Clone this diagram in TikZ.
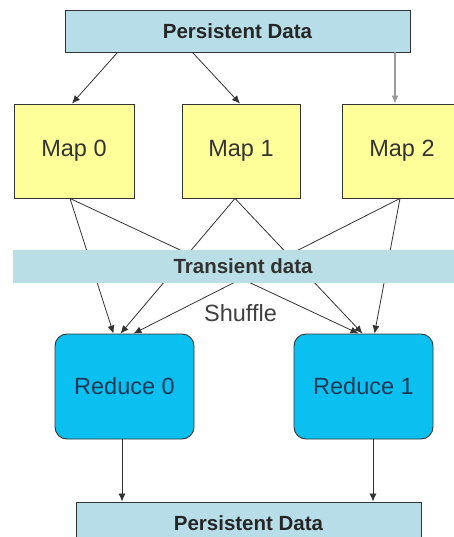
\documentclass[tikz,border=0pt]{standalone}
\usepackage{fontspec}
\setmainfont{Liberation Sans}
\usetikzlibrary{arrows.meta}
\definecolor{persist}{RGB}{183,221,232}
\definecolor{transient}{RGB}{186,222,230}
\definecolor{mapyellow}{RGB}{255,255,153}
\definecolor{reducecyan}{RGB}{10,192,240}
\definecolor{edgegray}{RGB}{51,51,51}
\definecolor{reducetext}{RGB}{28,55,85}

\begin{document}
\begin{tikzpicture}[x=1pt,y=-1pt,
  databox/.style={draw=edgegray,fill=persist,line width=0.9pt,minimum width=345pt,minimum height=42pt,inner sep=0pt,
    text=black!85,font=\fontsize{20.5}{24}\selectfont\bfseries},
  mapbox/.style={draw=edgegray,fill=mapyellow,line width=0.9pt,minimum height=94pt,inner sep=0pt,
    text=black!80,font=\fontsize{23.5}{28}\selectfont},
  reducebox/.style={draw=edgegray,fill=reducecyan,line width=0.9pt,rounded corners=12pt,minimum width=139pt,minimum height=105pt,
    inner sep=0pt,text=reducetext,font=\fontsize{23.5}{28}\selectfont},
  flow/.style={draw=edgegray,line width=0.8pt,-{Latex[length=8pt,width=7pt]}}]
\useasboundingbox (0,0) rectangle (454,537);
\node[databox] (pin) at (237.5,31) {Persistent Data};
\node[mapbox,minimum width=120pt] (m0) at (74,151) {Map 0};
\node[mapbox,minimum width=118pt] (m1) at (241,151) {Map 1};
\node[mapbox,minimum width=120pt] (m2) at (402,151) {Map 2};
\node[reducebox] (r0) at (124.5,386.5) {Reduce 0};
\node[reducebox] (r1) at (363.5,386.5) {Reduce 1};
\node[databox] (pout) at (248.5,523) {Persistent Data};
% input split
\draw[flow] ([xshift=-120pt]pin.south)--([xshift=-2pt]m0.north);
\draw[flow] ([xshift=-45pt]pin.south)--([xshift=-1pt]m1.north);
\draw[flow,draw=black!40,line width=1.1pt] ([xshift=157.5pt]pin.south)--([xshift=-7pt]m2.north);
% shuffle
\foreach \m/\a/\b/\c in {m0/-4/-11/-5,m1/-6/-4/-1,m2/-2/9/11} {
  \draw[flow] ([xshift=\a pt]\m.south)--([xshift=\b pt]r0.north);
  \draw[flow] ([xshift=\a pt]\m.south)--([xshift=\c pt]r1.north);}
\node[fill=transient,minimum width=460pt,minimum height=33pt,inner sep=0pt,
  text=black!80,font=\fontsize{20.5}{24}\selectfont\bfseries] (tr) at (243,266.5) {Transient data};
\node[text=black!75,font=\fontsize{23.5}{28}\selectfont] (sh) at (240.5,313) {Shuffle};
% output
\draw[flow] ([xshift=-2.5pt]r0.south)--([xshift=-2.5pt]r0.south |- pout.north);
\draw[flow] ([xshift=9.5pt]r1.south)--([xshift=9.5pt]r1.south |- pout.north);
\end{tikzpicture}
\end{document}
